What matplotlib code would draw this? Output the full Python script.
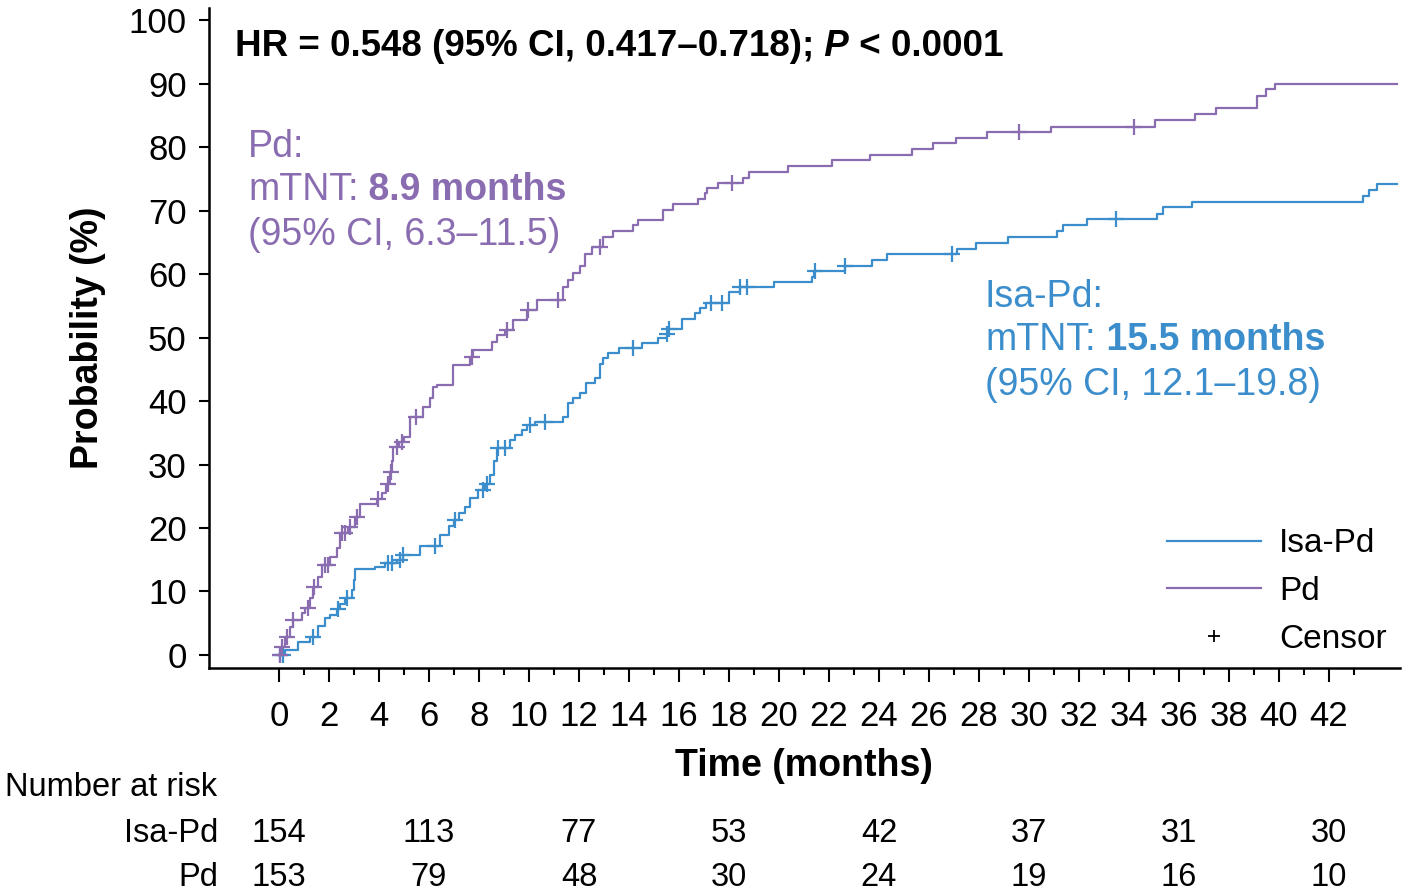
import numpy as np
import matplotlib
matplotlib.use("Agg")
import matplotlib.pyplot as plt
from matplotlib.lines import Line2D
from matplotlib.transforms import blended_transform_factory

plt.rcParams['font.family'] = ['Liberation Sans', 'DejaVu Sans']

# ---------------- data ----------------
isa_t = [0.0, 0.24, 0.76, 1.24, 1.56, 1.84, 2.04, 2.32, 2.44, 2.64, 2.92, 3.0, 3.04, 3.84, 4.24,
         4.72, 4.96, 5.64, 6.44, 6.8, 7.0, 7.2, 7.44, 7.64, 7.96, 8.24, 8.44, 8.6, 8.72, 9.24,
         9.44, 9.72, 9.92, 10.24, 11.36, 11.56, 11.76, 12.04, 12.28, 12.64, 12.84, 12.96, 13.16,
         13.6, 14.52, 15.16, 15.52, 15.56, 16.12, 16.64, 16.84, 17.08, 18.0, 18.44, 19.8, 21.32,
         21.4, 22.64, 23.72, 24.32, 27.12, 27.88, 29.16, 31.12, 31.36, 32.32, 35.12, 35.36, 36.52,
         43.36, 43.6, 43.92, 44.72]
isa_y = [0.0, 0.8, 2.1, 2.8, 4.5, 5.8, 6.3, 7.3, 8.0, 9.0, 10.2, 11.8, 13.5, 13.9, 14.5,
         15.0, 15.7, 17.1, 18.9, 20.3, 21.3, 22.3, 23.3, 24.8, 26.0, 27.0, 28.3, 30.5, 32.6, 33.9,
         34.6, 35.4, 36.2, 36.7, 37.5, 39.7, 40.5, 41.3, 42.9, 43.7, 45.9, 46.7, 47.5,
         48.3, 49.1, 49.9, 50.6, 51.3, 52.9, 53.8, 54.7, 55.5, 57.1, 57.9, 58.7, 59.6,
         60.4, 61.3, 62.2, 63.1, 64.0, 64.9, 65.9, 66.8, 67.7, 68.6, 69.5, 70.5, 71.4,
         72.3, 73.3, 74.2, 74.2]
isa_cens = [0.04, 0.16, 1.36, 2.36, 2.72, 4.36, 4.52, 4.84, 4.96, 6.24, 7.04, 8.16, 8.32, 8.76,
            9.04, 10.04, 10.64, 14.16, 15.52, 15.6, 17.28, 17.72, 18.44, 18.72, 21.44, 22.64,
            26.92, 33.48]

pd_t = [0.0, 0.12, 0.24, 0.44, 0.56, 0.92, 1.04, 1.24, 1.36, 1.56, 1.72, 2.04, 2.32, 2.44, 2.76,
        3.04, 3.24, 3.92, 4.12, 4.28, 4.44, 4.52, 4.56, 4.8, 5.0, 5.24, 5.76, 6.04, 6.16, 6.32,
        6.96, 7.64, 7.76, 8.52, 8.72, 9.04, 9.36, 9.92, 10.32, 11.36, 11.56, 11.76, 12.04, 12.24,
        12.52, 12.96, 13.36, 14.16, 14.36, 15.36, 15.76, 16.76, 17.04, 17.12, 17.56, 18.56, 18.8,
        20.36, 22.12, 23.64, 25.32, 26.16, 27.08, 28.32, 30.88, 35.04, 36.64, 37.48, 39.12, 39.48,
        39.84, 44.72]
pd_y = [0.0, 1.3, 2.8, 4.4, 5.5, 6.6, 7.4, 9.0, 10.7, 12.3, 14.2, 15.4, 16.8, 19.2, 20.2,
        21.7, 23.8, 24.6, 25.5, 27.0, 28.8, 30.5, 32.8, 33.5, 34.3, 37.5, 39.1, 40.5, 42.2, 42.5,
        45.7, 47.0, 48.0, 49.3, 50.4, 51.2, 52.8, 54.3, 55.9, 58.0, 59.1, 60.1, 61.2, 63.2,
        64.3, 65.9, 66.7, 67.7, 68.5, 70.1, 71.0, 71.8, 72.7, 73.6, 74.4, 75.2, 76.1,
        77.0, 77.95, 78.7, 79.7, 80.6, 81.4, 82.4, 83.2, 84.2, 85.2, 86.1, 88.1, 89.1,
        90.0, 90.0]
pd_cens = [0.04, 0.12, 0.32, 0.56, 1.16, 1.4, 1.84, 1.96, 2.52, 2.64, 2.84, 3.1, 3.96, 4.36,
           4.48, 4.72, 4.92, 5.48, 7.72, 9.12, 9.96, 11.16, 12.84, 18.12, 29.6, 34.2]

risk_times = [0, 6, 12, 18, 24, 30, 36, 42]
isa_risk = [154, 113, 77, 53, 42, 37, 31, 30]
pd_risk = [153, 79, 48, 30, 24, 19, 16, 10]

blue = '#3b8ecb'
purple = '#8a6db1'

# ---------------- figure ----------------
W, H = 1406, 891
fig = plt.figure(figsize=(W / 100, H / 100), dpi=100)
ax = fig.add_axes([209 / W, 1 - 668 / H, (1400 - 209) / W, (668 - 8) / H])
ax.set_xlim(-2.8, 44.84)
ax.set_ylim(-2.05, 101.9)

def step_val(t, ts, ys):
    ts = np.asarray(ts); ys = np.asarray(ys)
    i = np.searchsorted(ts, t, side='right') - 1
    return ys[max(i, 0)]

for ts, ys, cens, col in [(isa_t, isa_y, isa_cens, blue), (pd_t, pd_y, pd_cens, purple)]:
    ax.step(ts, ys, where='post', color=col, lw=1.6, zorder=3)
    cy = [step_val(c, ts, ys) for c in cens]
    ax.plot(cens, cy, ls='none', marker='+', ms=12, mew=1.6, color=col, zorder=4)

for s in ['top', 'right']:
    ax.spines[s].set_visible(False)
for s in ['left', 'bottom']:
    ax.spines[s].set_linewidth(1.8)

ax.set_yticks(np.arange(0, 101, 10))
ax.set_xticks(np.arange(0, 43, 2))
ax.set_xticks(np.arange(1, 44, 2), minor=True)
ax.tick_params(axis='y', length=7, width=1.5, pad=9, labelsize=25)
ax.tick_params(axis='x', which='major', length=10, width=1.5, pad=13, labelsize=25)
ax.tick_params(axis='x', which='minor', length=5, width=1.5)

fig.text(88 / W, 1 - 338 / H, 'Probability (%)', rotation=90, ha='center', va='center',
         fontsize=27, fontweight='bold')
fig.text(804 / W, 1 - 766 / H, 'Time (months)', ha='center', va='center',
         fontsize=27, fontweight='bold')

# HR line
t1 = fig.text(235 / W, 1 - 46 / H, 'HR = 0.548 (95% CI, 0.417\u20130.718);', ha='left',
              va='center', fontsize=26.5, fontweight='bold')
t2 = ax.annotate(' P', xy=(1, 0), xycoords=t1, ha='left', va='bottom', fontsize=26.5,
                 fontweight='bold', fontstyle='italic')
ax.annotate(' < 0.0001', xy=(1, 0), xycoords=t2, ha='left', va='bottom', fontsize=26.5,
            fontweight='bold')

# Pd annotation
fs = 27
fig.text(248 / W, 1 - 147 / H, 'Pd:', color=purple, fontsize=fs, ha='left', va='center')
p1 = fig.text(248 / W, 1 - 190 / H, 'mTNT:', color=purple, fontsize=fs, ha='left', va='center')
ax.annotate(' 8.9 months', xy=(1, 0), xycoords=p1, ha='left', va='bottom', color=purple,
            fontsize=fs, fontweight='bold')
fig.text(248 / W, 1 - 235 / H, '(95% CI, 6.3\u201311.5)', color=purple, fontsize=fs,
         ha='left', va='center')

# Isa-Pd annotation
fig.text(985 / W, 1 - 297 / H, 'Isa-Pd:', color=blue, fontsize=fs, ha='left', va='center')
b1 = fig.text(985 / W, 1 - 340 / H, 'mTNT:', color=blue, fontsize=fs, ha='left', va='center')
ax.annotate(' 15.5 months', xy=(1, 0), xycoords=b1, ha='left', va='bottom', color=blue,
            fontsize=fs, fontweight='bold')
fig.text(985 / W, 1 - 385 / H, '(95% CI, 12.1\u201319.8)', color=blue, fontsize=fs,
         ha='left', va='center')

# legend
handles = [Line2D([], [], color=blue, lw=1.6),
           Line2D([], [], color=purple, lw=1.6),
           Line2D([], [], color='black', ls='none', marker='+', ms=9, mew=1.3)]
leg = ax.legend(handles, ['Isa-Pd', 'Pd', 'Censor'], loc='lower right', frameon=False,
                fontsize=24, handlelength=2.8, handletextpad=0.55, labelspacing=0.5,
                bbox_to_anchor=(1.0, 0.0), borderaxespad=0.0)

# number at risk
trans = blended_transform_factory(ax.transData, fig.transFigure)
fig.text(5 / W, 1 - 787 / H, 'Number at risk', fontsize=23.5, ha='left', va='center')
fig.text(218 / W, 1 - 833 / H, 'Isa-Pd', fontsize=23.5, ha='right', va='center')
fig.text(218 / W, 1 - 878 / H, 'Pd', fontsize=23.5, ha='right', va='center')
for t, a, b in zip(risk_times, isa_risk, pd_risk):
    ax.text(t, 1 - 833 / H, str(a), transform=trans, fontsize=23.5, ha='center', va='center')
    ax.text(t, 1 - 878 / H, str(b), transform=trans, fontsize=23.5, ha='center', va='center')

fig.savefig('out.png', dpi=100)
